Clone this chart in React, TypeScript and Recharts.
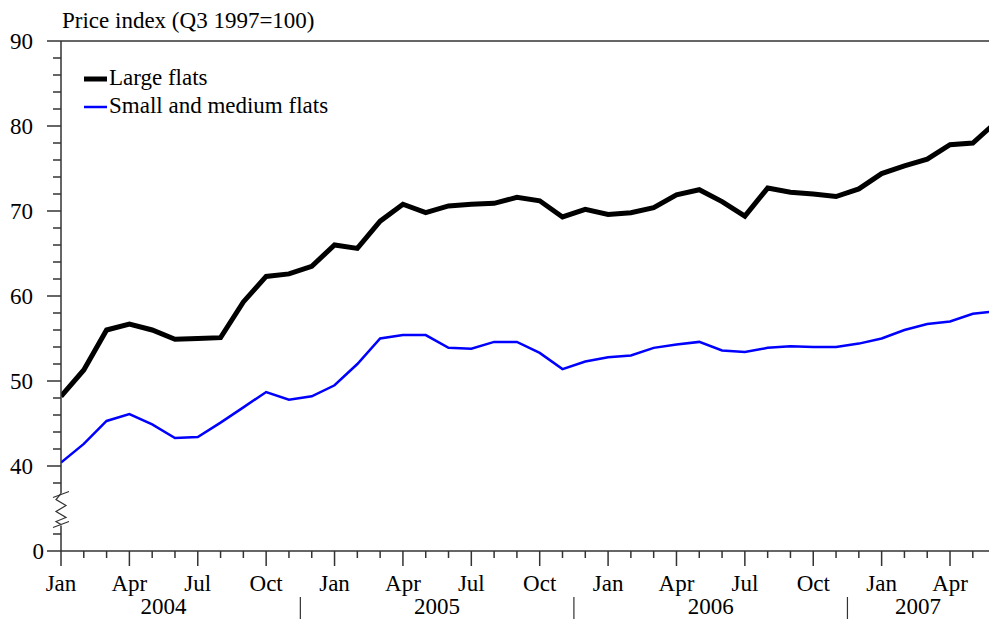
import React from 'react'
import { LineChart, Line, XAxis, YAxis, Legend, ReferenceLine } from 'recharts'

// monthly series, Jan 2004 .. Jun 2007
const monthNames = ['Jan', 'Feb', 'Mar', 'Apr', 'May', 'Jun', 'Jul', 'Aug', 'Sep', 'Oct', 'Nov', 'Dec']
const largeFlats = [
  48.2, 51.3, 56.0, 56.7, 56.0, 54.9, 55.0, 55.1, 59.3, 62.3, 62.6, 63.5,
  66.0, 65.6, 68.8, 70.8, 69.8, 70.6, 70.8, 70.9, 71.6, 71.2, 69.3, 70.2,
  69.6, 69.8, 70.4, 71.9, 72.5, 71.1, 69.4, 72.7, 72.2, 72.0, 71.7, 72.6,
  74.4, 75.3, 76.1, 77.8, 78.0, 80.4,
]
const smallFlats = [
  40.4, 42.6, 45.3, 46.1, 44.9, 43.3, 43.4, 45.1, 46.9, 48.7, 47.8, 48.2,
  49.5, 52.0, 55.0, 55.4, 55.4, 53.9, 53.8, 54.6, 54.6, 53.3, 51.4, 52.3,
  52.8, 53.0, 53.9, 54.3, 54.6, 53.6, 53.4, 53.9, 54.1, 54.0, 54.0, 54.4,
  55.0, 56.0, 56.7, 57.0, 57.9, 58.2,
]
const yearLabels = ['2004', '2005', '2006', '2007']
const yearLabelAt = [4.5, 16.5, 28.5, 37.6]
const yearSeparatorAt = [10.5, 22.5, 34.5]
const xMax = 40.71

// y axis is broken: the bottom tick (30 on the scale) is labelled 0
const yBottom = 30
const yBreak = 35
const yTicks = [30, 32, 35, 38, 40, 42, 44, 46, 48, 50, 52, 54, 56, 58, 60, 62, 64, 66, 68, 70, 72, 74, 76, 78, 80, 82, 84, 86, 88, 90]

const data = largeFlats.map((v, i) => ({ m: i, large: v, small: smallFlats[i] }))
const monthTicks = data.map((d) => d.m).filter((m) => m <= xMax)

const axisColor = '#333'
const font = "'Liberation Serif', 'Times New Roman', serif"
const fs = 23

const YTick = (props: any) => {
  const { x, y, payload } = props
  const v = payload.value
  if (v === yBreak) {
    return (
      <g>
        <rect x={x - 2} y={y - 15} width={4} height={32} fill="#fff" />
        <polyline
          points={`${x},${y - 15} ${x - 5},${y - 9} ${x + 5},${y - 3} ${x - 5},${y + 3} ${x + 5},${y + 9} ${x - 5},${y + 13} ${x},${y + 16}`}
          fill="none"
          stroke={axisColor}
          strokeWidth={1.2}
        />
        <line x1={x - 8} x2={x + 8} y1={y - 11} y2={y - 17} stroke={axisColor} strokeWidth={1.2} />
        <line x1={x - 8} x2={x + 8} y1={y + 19} y2={y + 13} stroke={axisColor} strokeWidth={1.2} />
      </g>
    )
  }
  const major = v % 10 === 0
  const label = v === yBottom ? '0' : String(v)
  return (
    <g>
      <line x1={x - (major ? 14 : 8)} x2={x} y1={y} y2={y} stroke={axisColor} strokeWidth={1.5} />
      {major && (
        <text x={v === yBottom ? x - 17 : x - 28} y={y + 8} textAnchor="end" fontSize={fs} fontFamily={font} fill="#000">
          {label}
        </text>
      )}
    </g>
  )
}

const MonthTick = (props: any) => {
  const { x, y, payload } = props
  const m = payload.value
  const major = m % 3 === 0
  return (
    <g>
      <line x1={x} x2={x} y1={y} y2={y + (major ? 15 : 7)} stroke={axisColor} strokeWidth={1.5} />
      {major && (
        <text x={x} y={y + 40} textAnchor="middle" fontSize={fs} fontFamily={font} fill="#000">
          {monthNames[m % 12]}
        </text>
      )}
    </g>
  )
}

const YearTick = (props: any) => {
  const { x, y, payload } = props
  const v = payload.value
  const idx = yearLabelAt.indexOf(v)
  if (idx < 0) {
    return <line x1={x} x2={x} y1={y + 6} y2={y + 28} stroke={axisColor} strokeWidth={1.2} />
  }
  return (
    <text x={x} y={y + 23} textAnchor="middle" fontSize={fs} fontFamily={font} fill="#000">
      {yearLabels[idx]}
    </text>
  )
}

const legendWidths = [5, 2.5]

const LegendContent = (props: any) => {
  const { payload } = props
  return (
    <svg width={320} height={60}>
      {(payload || []).map((e: any, i: number) => (
        <g key={e.value}>
          <line x1={0} x2={23} y1={17 + 28 * i} y2={17 + 28 * i} stroke={e.color} strokeWidth={legendWidths[i]} />
          <text x={25} y={23 + 28 * i} fontSize={fs} fontFamily={font} fill="#000">
            {e.value}
          </text>
        </g>
      ))}
    </svg>
  )
}

export default function App() {
  return (
    <div style={{ position: 'absolute', left: 0, top: 0, width: 989, height: 619, background: '#fff', fontFamily: font }}>
      <LineChart width={989} height={619} data={data} margin={{ top: 41, right: 0, bottom: 0, left: 0 }}>
        <XAxis
          dataKey="m"
          type="number"
          domain={[0, xMax]}
          allowDataOverflow
          ticks={monthTicks}
          interval={0}
          tick={<MonthTick />}
          tickLine={false}
          tickSize={0}
          tickMargin={0}
          height={40}
          stroke={axisColor}
          strokeWidth={1.5}
        />
        <XAxis
          xAxisId="year"
          dataKey="m"
          type="number"
          domain={[0, xMax]}
          allowDataOverflow
          ticks={[...yearLabelAt, ...yearSeparatorAt]}
          interval={0}
          tick={<YearTick />}
          tickLine={false}
          axisLine={false}
          tickSize={0}
          tickMargin={0}
          height={28}
        />
        <YAxis
          type="number"
          domain={[yBottom, 90]}
          allowDataOverflow
          ticks={yTicks}
          interval={0}
          tick={<YTick />}
          tickLine={false}
          tickSize={0}
          tickMargin={0}
          width={61}
          stroke={axisColor}
          strokeWidth={1.5}
        />
        <ReferenceLine y={90} stroke={axisColor} strokeWidth={1.5} />
        <Legend
          layout="vertical"
          align="center"
          verticalAlign="middle"
          content={<LegendContent />}
          wrapperStyle={{ left: 84, top: 62, width: 320 }}
        />
        <Line
          type="linear"
          dataKey="large"
          name="Large flats"
          stroke="#000000"
          strokeWidth={5}
          dot={false}
          isAnimationActive={false}
        />
        <Line
          type="linear"
          dataKey="small"
          name="Small and medium flats"
          stroke="#0000ff"
          strokeWidth={2.5}
          dot={false}
          isAnimationActive={false}
        />
      </LineChart>
      <svg width={400} height={40} style={{ position: 'absolute', left: 0, top: 0 }}>
        <text x={62} y={28} fontSize={fs} fontFamily={font} fill="#000">
          Price index (Q3 1997=100)
        </text>
      </svg>
    </div>
  )
}
